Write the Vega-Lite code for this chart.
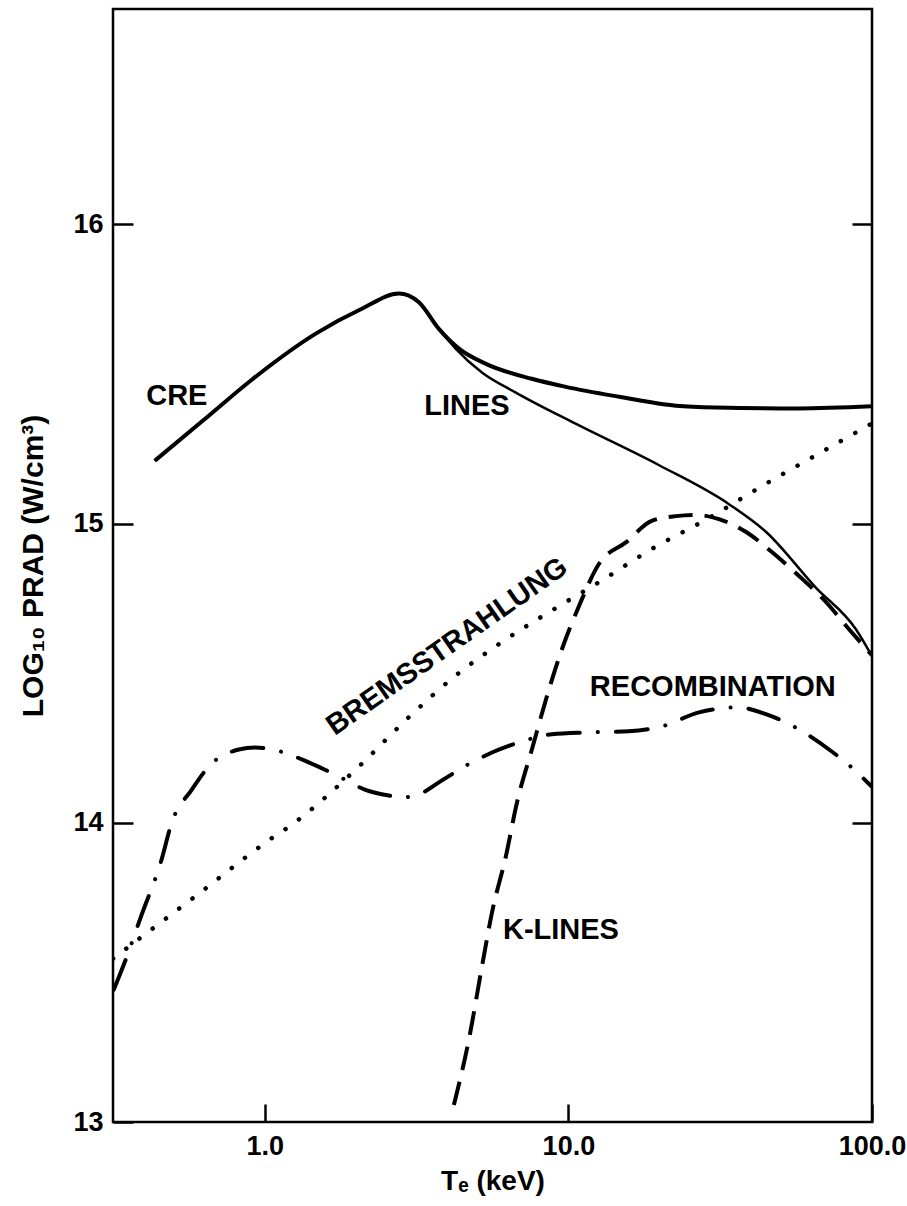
{
  "$schema": "https://vega.github.io/schema/vega-lite/v6.json",
  "width": 759,
  "height": 1113,
  "autosize": "none",
  "padding": {"left": 113, "top": 9, "right": 35, "bottom": 84},
  "background": "white",
  "config": {
    "view": {"stroke": "black", "strokeWidth": 2.5},
    "font": "Liberation Sans",
    "axis": {
      "grid": false,
      "domain": false,
      "tickColor": "black",
      "tickWidth": 2.5,
      "labelColor": "black",
      "labelFont": "Liberation Sans",
      "labelFontWeight": "bold",
      "labelFontSize": 27,
      "titleColor": "black",
      "titleFont": "Liberation Sans",
      "titleFontWeight": "bold",
      "labelFlush": false,
      "labelOverlap": false,
      "labelBound": false
    }
  },
  "datasets": {
    "curves": [
      {"series": "CRE", "T": 0.434, "P": 15.21},
      {"series": "CRE", "T": 0.63, "P": 15.347},
      {"series": "CRE", "T": 0.906, "P": 15.481},
      {"series": "CRE", "T": 1.472, "P": 15.635},
      {"series": "CRE", "T": 2.087, "P": 15.718},
      {"series": "CRE", "T": 2.764, "P": 15.769},
      {"series": "CRE", "T": 3.217, "P": 15.74},
      {"series": "CRE", "T": 3.744, "P": 15.651},
      {"series": "CRE", "T": 4.36, "P": 15.585},
      {"series": "CRE", "T": 5.35, "P": 15.534},
      {"series": "CRE", "T": 7.57, "P": 15.484},
      {"series": "CRE", "T": 9.81, "P": 15.457},
      {"series": "CRE", "T": 14.7, "P": 15.424},
      {"series": "CRE", "T": 22.6, "P": 15.394},
      {"series": "CRE", "T": 30.6, "P": 15.388},
      {"series": "CRE", "T": 57.5, "P": 15.385},
      {"series": "CRE", "T": 100, "P": 15.392},
      {"series": "LINES", "T": 0.434, "P": 15.21},
      {"series": "LINES", "T": 0.63, "P": 15.347},
      {"series": "LINES", "T": 0.906, "P": 15.481},
      {"series": "LINES", "T": 1.472, "P": 15.635},
      {"series": "LINES", "T": 2.087, "P": 15.718},
      {"series": "LINES", "T": 2.764, "P": 15.769},
      {"series": "LINES", "T": 3.217, "P": 15.74},
      {"series": "LINES", "T": 3.744, "P": 15.651},
      {"series": "LINES", "T": 4.25, "P": 15.585},
      {"series": "LINES", "T": 5.19, "P": 15.505},
      {"series": "LINES", "T": 6.71, "P": 15.438},
      {"series": "LINES", "T": 10.6, "P": 15.333},
      {"series": "LINES", "T": 19.9, "P": 15.195},
      {"series": "LINES", "T": 33.8, "P": 15.065},
      {"series": "LINES", "T": 44.8, "P": 14.972},
      {"series": "LINES", "T": 65.3, "P": 14.786},
      {"series": "LINES", "T": 88.5, "P": 14.647},
      {"series": "LINES", "T": 100, "P": 14.557},
      {"series": "BREMSSTRAHLUNG", "T": 0.3162, "P": 13.546},
      {"series": "BREMSSTRAHLUNG", "T": 0.3933, "P": 13.619},
      {"series": "BREMSSTRAHLUNG", "T": 0.606, "P": 13.763},
      {"series": "BREMSSTRAHLUNG", "T": 1.015, "P": 13.937},
      {"series": "BREMSSTRAHLUNG", "T": 1.255, "P": 14.001},
      {"series": "BREMSSTRAHLUNG", "T": 1.965, "P": 14.172},
      {"series": "BREMSSTRAHLUNG", "T": 2.982, "P": 14.353},
      {"series": "BREMSSTRAHLUNG", "T": 4.227, "P": 14.49},
      {"series": "BREMSSTRAHLUNG", "T": 5.9, "P": 14.597},
      {"series": "BREMSSTRAHLUNG", "T": 9.3, "P": 14.724},
      {"series": "BREMSSTRAHLUNG", "T": 12.6, "P": 14.804},
      {"series": "BREMSSTRAHLUNG", "T": 18.8, "P": 14.915},
      {"series": "BREMSSTRAHLUNG", "T": 28.6, "P": 15.015},
      {"series": "BREMSSTRAHLUNG", "T": 44.7, "P": 15.133},
      {"series": "BREMSSTRAHLUNG", "T": 68.4, "P": 15.24},
      {"series": "BREMSSTRAHLUNG", "T": 100, "P": 15.335},
      {"series": "RECOMBINATION", "T": 0.318, "P": 13.442},
      {"series": "RECOMBINATION", "T": 0.348, "P": 13.542},
      {"series": "RECOMBINATION", "T": 0.393, "P": 13.693},
      {"series": "RECOMBINATION", "T": 0.454, "P": 13.867},
      {"series": "RECOMBINATION", "T": 0.494, "P": 14.001},
      {"series": "RECOMBINATION", "T": 0.575, "P": 14.111},
      {"series": "RECOMBINATION", "T": 0.659, "P": 14.192},
      {"series": "RECOMBINATION", "T": 0.821, "P": 14.245},
      {"series": "RECOMBINATION", "T": 0.927, "P": 14.252},
      {"series": "RECOMBINATION", "T": 1.121, "P": 14.239},
      {"series": "RECOMBINATION", "T": 1.396, "P": 14.202},
      {"series": "RECOMBINATION", "T": 1.753, "P": 14.155},
      {"series": "RECOMBINATION", "T": 2.135, "P": 14.111},
      {"series": "RECOMBINATION", "T": 2.563, "P": 14.091},
      {"series": "RECOMBINATION", "T": 2.828, "P": 14.085},
      {"series": "RECOMBINATION", "T": 3.217, "P": 14.095},
      {"series": "RECOMBINATION", "T": 3.744, "P": 14.135},
      {"series": "RECOMBINATION", "T": 4.56, "P": 14.189},
      {"series": "RECOMBINATION", "T": 5.6, "P": 14.235},
      {"series": "RECOMBINATION", "T": 7.03, "P": 14.272},
      {"series": "RECOMBINATION", "T": 8.82, "P": 14.296},
      {"series": "RECOMBINATION", "T": 11.5, "P": 14.302},
      {"series": "RECOMBINATION", "T": 15.8, "P": 14.306},
      {"series": "RECOMBINATION", "T": 20.3, "P": 14.322},
      {"series": "RECOMBINATION", "T": 26.9, "P": 14.369},
      {"series": "RECOMBINATION", "T": 35.9, "P": 14.386},
      {"series": "RECOMBINATION", "T": 44.7, "P": 14.363},
      {"series": "RECOMBINATION", "T": 57.5, "P": 14.312},
      {"series": "RECOMBINATION", "T": 72.2, "P": 14.245},
      {"series": "RECOMBINATION", "T": 87.3, "P": 14.178},
      {"series": "RECOMBINATION", "T": 100, "P": 14.12},
      {"series": "K-LINES", "T": 4.195, "P": 13.057},
      {"series": "K-LINES", "T": 4.7, "P": 13.275},
      {"series": "K-LINES", "T": 5.19, "P": 13.519},
      {"series": "K-LINES", "T": 5.6, "P": 13.7},
      {"series": "K-LINES", "T": 6.22, "P": 13.887},
      {"series": "K-LINES", "T": 6.77, "P": 14.068},
      {"series": "K-LINES", "T": 7.58, "P": 14.245},
      {"series": "K-LINES", "T": 8.63, "P": 14.446},
      {"series": "K-LINES", "T": 9.52, "P": 14.58},
      {"series": "K-LINES", "T": 10.83, "P": 14.724},
      {"series": "K-LINES", "T": 12.6, "P": 14.865},
      {"series": "K-LINES", "T": 15.5, "P": 14.938},
      {"series": "K-LINES", "T": 18.8, "P": 15.009},
      {"series": "K-LINES", "T": 22.6, "P": 15.025},
      {"series": "K-LINES", "T": 26.3, "P": 15.029},
      {"series": "K-LINES", "T": 31.3, "P": 15.015},
      {"series": "K-LINES", "T": 38.5, "P": 14.972},
      {"series": "K-LINES", "T": 46.8, "P": 14.905},
      {"series": "K-LINES", "T": 57.5, "P": 14.825},
      {"series": "K-LINES", "T": 70.5, "P": 14.738},
      {"series": "K-LINES", "T": 84.0, "P": 14.647},
      {"series": "K-LINES", "T": 100, "P": 14.56}
    ],
    "labels": [
      {"label": "CRE", "T": 0.513, "P": 15.427},
      {"label": "LINES", "T": 4.63, "P": 15.394},
      {"label": "RECOMBINATION", "T": 29.9, "P": 14.453},
      {"label": "K-LINES", "T": 9.45, "P": 13.643}
    ],
    "rotlabels": [
      {"label": "BREMSSTRAHLUNG", "T": 3.98, "P": 14.59}
    ]
  },
  "layer": [
    {
      "data": {"name": "curves"},
      "transform": [{"filter": "datum.series === 'CRE'"}],
      "mark": {"type": "line", "color": "black", "strokeWidth": 4, "interpolate": "monotone", "clip": true},
      "encoding": {
        "x": {
          "field": "T", "type": "quantitative",
          "scale": {"type": "log", "domain": [0.3162, 100], "nice": false},
          "axis": {
            "values": [1, 10, 100], "format": ".1f", "tickSize": -18, "labelPadding": 29,
            "title": "Tₑ (keV)", "titleFontSize": 28, "titlePadding": 8
          }
        },
        "y": {
          "field": "P", "type": "quantitative",
          "scale": {"domain": [13, 16.72], "nice": false, "zero": false},
          "axis": {
            "values": [13, 14, 15, 16], "format": "d", "tickSize": -20, "labelPadding": 30,
            "title": "LOG₁₀ PRAD (W/cm³)", "titleFontSize": 30, "titlePadding": 24
          }
        }
      }
    },
    {
      "data": {"name": "curves"},
      "transform": [{"filter": "datum.series === 'LINES'"}],
      "mark": {"type": "line", "color": "black", "strokeWidth": 2.5, "interpolate": "monotone", "clip": true},
      "encoding": {
        "x": {"field": "T", "type": "quantitative"},
        "y": {"field": "P", "type": "quantitative", "axis": null}
      }
    },
    {
      "data": {"name": "curves"},
      "transform": [{"filter": "datum.series === 'BREMSSTRAHLUNG'"}],
      "mark": {"type": "line", "color": "black", "strokeWidth": 4.5, "strokeCap": "round", "strokeDash": [0.1, 16.5], "interpolate": "monotone", "clip": true},
      "encoding": {
        "x": {"field": "T", "type": "quantitative"},
        "y": {"field": "P", "type": "quantitative", "axis": null}
      }
    },
    {
      "data": {"name": "curves"},
      "transform": [{"filter": "datum.series === 'RECOMBINATION'"}],
      "mark": {"type": "line", "color": "black", "strokeWidth": 4, "strokeCap": "round", "strokeDash": [32, 18, 0.1, 18], "interpolate": "monotone", "clip": true},
      "encoding": {
        "x": {"field": "T", "type": "quantitative"},
        "y": {
          "field": "P", "type": "quantitative",
          "axis": {"orient": "right", "values": [14, 15, 16], "tickSize": -20, "labels": false, "title": null}
        }
      }
    },
    {
      "data": {"name": "curves"},
      "transform": [{"filter": "datum.series === 'K-LINES'"}],
      "mark": {"type": "line", "color": "black", "strokeWidth": 4, "strokeDash": [24, 12], "interpolate": "monotone", "clip": true},
      "encoding": {
        "x": {"field": "T", "type": "quantitative"},
        "y": {"field": "P", "type": "quantitative", "axis": null}
      }
    },
    {
      "data": {"name": "labels"},
      "mark": {"type": "text", "color": "black", "font": "Liberation Sans", "fontWeight": "bold", "fontSize": 29, "align": "center", "baseline": "middle"},
      "encoding": {
        "x": {"field": "T", "type": "quantitative"},
        "y": {"field": "P", "type": "quantitative", "axis": null},
        "text": {"field": "label"}
      }
    },
    {
      "data": {"name": "rotlabels"},
      "mark": {"type": "text", "color": "black", "font": "Liberation Sans", "fontWeight": "bold", "fontSize": 29, "align": "center", "baseline": "middle", "angle": 325},
      "encoding": {
        "x": {"field": "T", "type": "quantitative"},
        "y": {"field": "P", "type": "quantitative", "axis": null},
        "text": {"field": "label"}
      }
    }
  ],
  "resolve": {"axis": {"y": "independent"}}
}
